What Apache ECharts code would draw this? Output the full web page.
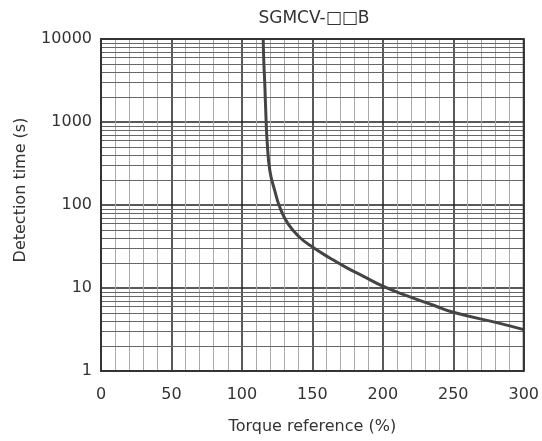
<!DOCTYPE html>
<html>
<head>
<meta charset="utf-8">
<script src="https://cdn.jsdelivr.net/npm/echarts@6/dist/echarts.min.js"></script>
<style>html,body{margin:0;padding:0;background:#fff;}#c{width:542px;height:441px;}</style>
</head>
<body>
<div id="c"></div>
<script>
var titleText = 'SGMCV-\u25A1\u25A1B';
var xName = 'Torque reference (%)';
var yName = 'Detection time (s)';
var xTicks = [0, 50, 100, 150, 200, 250, 300];
var yTicks = [1, 10, 100, 1000, 10000];
var minorGridY = [2,3,4,5,6,7,8,9,20,30,40,50,60,70,80,90,200,300,400,500,600,700,800,900,2000,3000,4000,5000,6000,7000,8000,9000];
var torque = [115.1, 115.6, 116.2, 117.2, 118, 119.9, 123.4, 127, 132.9, 141.1, 150.6, 162.4, 174.2, 186, 200, 216.8, 236, 250, 283, 300];
var detectTime = [10000, 5000, 3000, 1000, 550, 255, 147, 93, 58.7, 40.6, 30.8, 23, 17.6, 13.9, 10.5, 8.1, 6.2, 5.1, 3.75, 3.15];

var FONT = 'DejaVu Sans';
var chart = echarts.init(document.getElementById('c'), null, {renderer: 'canvas'});
var curve = torque.map(function (t, i) { return [t, detectTime[i]]; });
chart.setOption({
  animation: false,
  backgroundColor: '#fff',
  title: {
    text: titleText, left: 314, top: 10, padding: 0, textAlign: 'center',
    textStyle: {fontFamily: FONT, fontSize: 17, fontWeight: 'normal', color: '#333'}
  },
  grid: {left: 101, right: 18, top: 39, bottom: 70, show: true, borderColor: '#333', borderWidth: 2, backgroundColor: 'transparent', z: 10},
  xAxis: {
    type: 'value', min: xTicks[0], max: xTicks[xTicks.length - 1], interval: 50,
    name: xName, nameLocation: 'middle', nameGap: 48,
    nameTextStyle: {fontFamily: FONT, fontSize: 16, color: '#333'},
    axisLine: {show: false}, axisTick: {show: false},
    axisLabel: {fontFamily: FONT, fontSize: 16, color: '#333', margin: 16},
    splitLine: {show: true, lineStyle: {color: '#222', width: 1.5}},
    minorTick: {show: false, splitNumber: 5},
    minorSplitLine: {show: true, lineStyle: {color: '#aaa', width: 1}}
  },
  yAxis: {
    type: 'log', logBase: 10, min: yTicks[0], max: yTicks[yTicks.length - 1],
    name: yName, nameLocation: 'middle', nameGap: 72, nameRotate: 90,
    nameTextStyle: {fontFamily: FONT, fontSize: 16, color: '#333', padding: [0, 0, 0, 30]},
    axisLine: {show: false}, axisTick: {show: false},
    axisLabel: {fontFamily: FONT, fontSize: 16, color: '#333', margin: 9,
      formatter: function (v) { return String(Math.round(v)); }},
    splitLine: {show: true, lineStyle: {color: '#222', width: 1.5}}
  },
  series: [
    {
      type: 'line', data: [], silent: true, z: 1,
      markLine: {
        silent: true, symbol: ['none', 'none'], animation: false,
        label: {show: false},
        lineStyle: {color: '#666', width: 1, type: 'solid'},
        data: minorGridY.map(function (v) { return {yAxis: v}; })
      }
    },
    {
      type: 'line', data: curve, showSymbol: false, smooth: 0.5, z: 5,
      lineStyle: {color: '#444', width: 3}
    }
  ]
});
</script>
</body>
</html>
